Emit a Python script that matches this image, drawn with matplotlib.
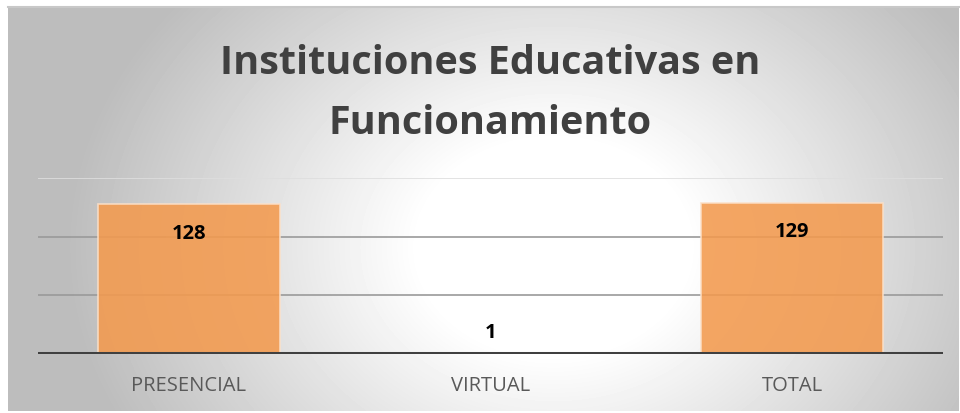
import numpy as np
import matplotlib
matplotlib.use("Agg")
import matplotlib.pyplot as plt

# --- data ---
categories = ["PRESENCIAL", "VIRTUAL", "TOTAL"]
values = [128, 1, 129]
title = "Instituciones Educativas en\nFuncionamiento"

W, H = 960, 414
fig = plt.figure(figsize=(W / 100, H / 100), dpi=100)
fig.patch.set_facecolor("white")

# radial gradient background (chart area from x=8..959, y=8..412)
bw, bh = 951, 404
bg = fig.add_axes([8 / W, 2 / H, bw / W, bh / H])
bg.set_axis_off()
yy, xx = np.mgrid[0:bh, 0:bw]
cx, cy = 545, 240
r = np.sqrt(((xx - cx) / 540.0) ** 2 + ((yy - cy) / 430.0) ** 2)
shade = np.clip(1.0 - 0.30 * np.clip(r - 0.25, 0, None) / 0.75, 0.74, 1.0)
bg.imshow(shade, cmap="gray", vmin=0, vmax=1, aspect="auto", interpolation="bilinear")
fig.add_artist(plt.Line2D([8 / W, 959 / W], [406 / H, 406 / H], color="#c8c8c8", lw=1.5))

# --- chart ---
ax = fig.add_axes([38 / W, 59 / H, 905 / W, 176 / H])
ax.set_facecolor("none")
x = np.arange(len(categories))
ax.set_xlim(-0.5, len(categories) - 0.5)
ax.set_ylim(0, 150)

for yv, c in [(50, "#9a9a9a"), (100, "#9a9a9a"), (150, "#dedede")]:
    ax.axhline(yv, color=c, lw=1.2, zorder=1)

bars = ax.bar(x, values, width=0.603, color="#F39A4E", alpha=0.88,
              edgecolor="#FCE0C8", linewidth=1.2, zorder=2)

for xi, v in zip(x, values):
    if v > 20:
        ax.annotate(str(v), (xi, v), xytext=(0, -13.5), textcoords="offset points",
                    ha="center", va="top", fontsize=14.5, fontweight="bold",
                    family="Open Sans", color="black", zorder=4)
    else:
        ax.annotate(str(v), (xi, v), xytext=(0, 8), textcoords="offset points",
                    ha="center", va="bottom", fontsize=14.5, fontweight="bold",
                    family="Open Sans", color="black", zorder=4)

ax.axhline(0, color="#404040", lw=2.9, zorder=3)
for s in ax.spines.values():
    s.set_visible(False)
ax.set_yticks([])
ax.set_xticks(x)
ax.set_xticklabels(categories, fontsize=14.5, family="Open Sans", color="#595959")
ax.tick_params(axis="x", length=0, pad=15)

fig.text(490 / W, 1 - 93 / H, title, ha="center", va="center", fontsize=28.5,
         fontweight="bold", family="Open Sans", color="#404040", linespacing=1.7)

fig.savefig("out.png", dpi=100)
